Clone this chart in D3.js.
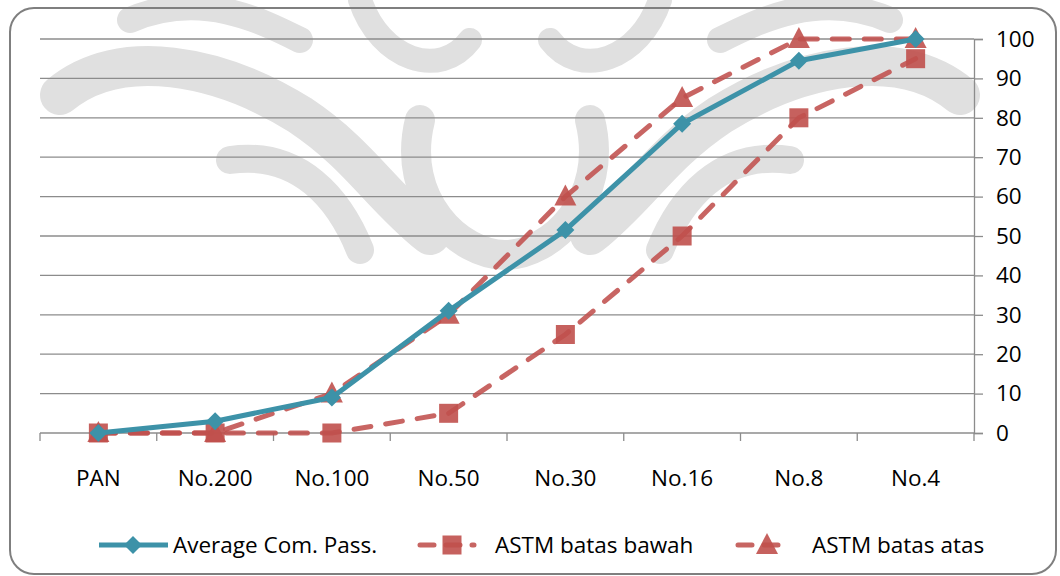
<!DOCTYPE html>
<html>
<head>
<meta charset="utf-8">
<script src="https://cdn.jsdelivr.net/npm/d3@7"></script>
<style>
  body { margin: 0; background: #fff; }
  text { font-family: "Open Sans", Lato, sans-serif; fill: #000; }
</style>
</head>
<body>
<div id="chart"></div>
<script>
// sieve sizes and % passing
var categories = ["PAN", "No.200", "No.100", "No.50", "No.30", "No.16", "No.8", "No.4"];
var avgPass = [0, 3, 9, 31, 51.5, 78.5, 94.5, 100];
var batasBawah = [0, 0, 0, 5, 25, 50, 80, 95];
var batasAtas = [0, 0, 10, 30, 60, 85, 100, 100];
var yTicks = [0, 10, 20, 30, 40, 50, 60, 70, 80, 90, 100];
var seriesNames = ["Average Com. Pass.", "ASTM batas bawah", "ASTM batas atas"];

var W = 1060, H = 576;
var teal = "#3d92a8", red = "#c0504d";
var fontSize = 22.5;

var svg = d3.select("#chart").append("svg")
    .attr("width", W).attr("height", H);

// faint watermark ornament behind the chart
var wm = svg.append("g").attr("fill", "none").attr("stroke", "#e0e0e0")
    .attr("stroke-linecap", "round");
wm.append("path").attr("stroke-width", 40)
    .attr("d", "M60,95 C120,45 220,65 300,115 C360,155 380,195 430,235");
wm.append("path").attr("stroke-width", 40)
    .attr("d", "M960,95 C900,45 800,65 720,115 C660,155 640,195 590,235");
wm.append("path").attr("stroke-width", 30)
    .attr("d", "M420,120 C400,200 460,255 505,255 C550,255 610,200 590,120");
wm.append("path").attr("stroke-width", 26)
    .attr("d", "M130,20 C200,-10 260,20 300,40 M890,20 C820,-10 760,20 720,40");
wm.append("path").attr("stroke-width", 24)
    .attr("d", "M360,0 C380,60 440,80 470,40 M660,0 C640,60 580,80 550,40");
wm.append("path").attr("stroke-width", 28)
    .attr("d", "M230,160 C300,150 340,200 360,250 M790,160 C720,150 680,200 660,250");

// chart border
svg.append("rect")
    .attr("x", 10).attr("y", 8).attr("width", 1046).attr("height", 566)
    .attr("rx", 24).attr("ry", 24)
    .attr("fill", "none").attr("stroke", "#7f7f7f").attr("stroke-width", 2);

var plotLeft = 40, plotRight = 974, plotTop = 39, plotBottom = 433;

var x = d3.scaleBand().domain(categories).range([plotLeft, plotRight]);
var y = d3.scaleLinear().domain([0, 100]).range([plotBottom, plotTop]);
var cx = function(c) { return x(c) + x.bandwidth() / 2; };

// gridlines
svg.append("g").selectAll("line").data(yTicks).join("line")
    .attr("x1", plotLeft).attr("x2", plotRight)
    .attr("y1", function(d) { return y(d); }).attr("y2", function(d) { return y(d); })
    .attr("stroke", "#8c8c8c").attr("stroke-width", 1.3);

// right axis
var yAxis = svg.append("g")
    .attr("transform", "translate(" + plotRight + ",0)")
    .call(d3.axisRight(y).tickValues(yTicks).tickSize(9).tickPadding(13));
yAxis.select(".domain").attr("stroke", "#8c8c8c").attr("stroke-width", 1.3);
yAxis.selectAll(".tick line").attr("stroke", "#8c8c8c").attr("stroke-width", 1.3);
yAxis.selectAll(".tick text").attr("font-size", fontSize)
    .attr("font-family", "'Open Sans', sans-serif").attr("fill", "#000");

// category ticks at band edges
var edges = categories.map(function(c) { return x(c); }).concat([plotRight]);
svg.append("g").selectAll("line").data(edges).join("line")
    .attr("x1", function(d) { return d; }).attr("x2", function(d) { return d; })
    .attr("y1", plotBottom).attr("y2", plotBottom + 8)
    .attr("stroke", "#8c8c8c").attr("stroke-width", 1.3);

svg.append("g").selectAll("text").data(categories).join("text")
    .attr("x", function(d) { return cx(d); }).attr("y", 486)
    .attr("text-anchor", "middle").attr("font-size", fontSize)
    .text(function(d) { return d; });

var line = d3.line()
    .x(function(d, i) { return cx(categories[i]); })
    .y(function(d) { return y(d); });

function square(g, px, py, s) {
  g.append("rect").attr("x", px - s / 2).attr("y", py - s / 2)
      .attr("width", s).attr("height", s).attr("fill", red).attr("opacity", 0.9);
}
function triangle(g, px, py, s) {
  g.append("path")
      .attr("d", "M" + px + "," + (py - s * 0.6) + "L" + (px + s * 0.55) + "," + (py + s * 0.45) +
                 "L" + (px - s * 0.55) + "," + (py + s * 0.45) + "Z")
      .attr("fill", red).attr("opacity", 0.9);
}
function diamond(g, px, py, s) {
  g.append("path")
      .attr("d", "M" + px + "," + (py - s / 2) + "L" + (px + s / 2) + "," + py +
                 "L" + px + "," + (py + s / 2) + "L" + (px - s / 2) + "," + py + "Z")
      .attr("fill", teal);
}

var plot = svg.append("g");

// ASTM batas bawah
plot.append("path").datum(batasBawah).attr("d", line)
    .attr("fill", "none").attr("stroke", red).attr("stroke-width", 5)
    .attr("stroke-dasharray", "17,15").attr("stroke-linecap", "round").attr("opacity", 0.88);
batasBawah.forEach(function(v, i) { square(plot, cx(categories[i]), y(v), 19); });

// ASTM batas atas
plot.append("path").datum(batasAtas).attr("d", line)
    .attr("fill", "none").attr("stroke", red).attr("stroke-width", 5)
    .attr("stroke-dasharray", "17,15").attr("stroke-linecap", "round").attr("opacity", 0.88);
batasAtas.forEach(function(v, i) { triangle(plot, cx(categories[i]), y(v), 20); });

// Average
plot.append("path").datum(avgPass).attr("d", line)
    .attr("fill", "none").attr("stroke", teal).attr("stroke-width", 5)
    .attr("stroke-linejoin", "round");
avgPass.forEach(function(v, i) { diamond(plot, cx(categories[i]), y(v), 18); });

// legend
var ly = 545;
var leg = svg.append("g");
leg.append("line").attr("x1", 99).attr("x2", 168).attr("y1", ly).attr("y2", ly)
    .attr("stroke", teal).attr("stroke-width", 5);
diamond(leg, 133, ly, 18);
leg.append("text").attr("x", 173).attr("y", ly + 8).attr("font-size", fontSize).text(seriesNames[0]);

leg.append("line").attr("x1", 420).attr("x2", 474).attr("y1", ly).attr("y2", ly)
    .attr("stroke", red).attr("stroke-width", 5).attr("stroke-dasharray", "14,12")
    .attr("stroke-linecap", "round").attr("opacity", 0.88);
square(leg, 452, ly, 19);
leg.append("text").attr("x", 495).attr("y", ly + 8).attr("font-size", fontSize).text(seriesNames[1]);

leg.append("line").attr("x1", 738).attr("x2", 790).attr("y1", ly).attr("y2", ly)
    .attr("stroke", red).attr("stroke-width", 5).attr("stroke-dasharray", "14,12")
    .attr("stroke-linecap", "round").attr("opacity", 0.88);
triangle(leg, 767, ly, 20);
leg.append("text").attr("x", 812).attr("y", ly + 8).attr("font-size", fontSize).text(seriesNames[2]);
</script>
</body>
</html>
